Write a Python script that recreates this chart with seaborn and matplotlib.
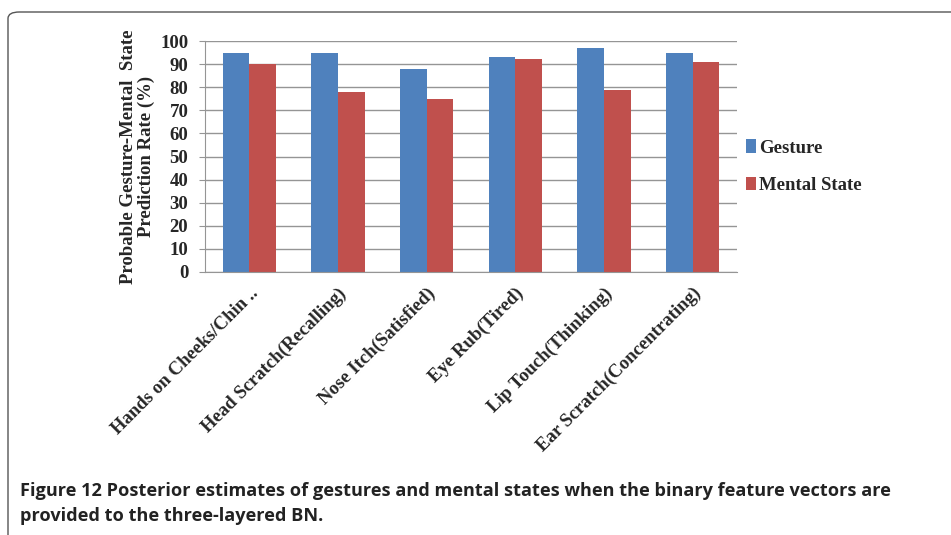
import matplotlib
matplotlib.use("Agg")
import matplotlib.pyplot as plt
import seaborn as sns
import pandas as pd
from matplotlib.patches import FancyBboxPatch

categories = ["Hands on Cheeks/Chin ..", "Head Scratch(Recalling)", "Nose Itch(Satisfied)",
              "Eye Rub(Tired)", "Lip Touch(Thinking)", "Ear Scratch(Concentrating)"]
gesture = [95, 95, 88, 93, 97, 95]
mental_state = [90, 78, 75, 92, 79, 91]
series_names = ["Gesture", "Mental State"]
y_ticks = list(range(0, 101, 10))

df = pd.DataFrame({
    "category": categories * 2,
    "value": gesture + mental_state,
    "series": [series_names[0]] * len(categories) + [series_names[1]] * len(categories),
})

sns.set_style("white")
plt.rcParams["font.family"] = ["Liberation Serif", "DejaVu Serif"]

fig = plt.figure(figsize=(9.51, 5.35), dpi=100)
ax = fig.add_axes([205 / 951, 1 - 272 / 535, (737 - 205) / 951, (272 - 41) / 535])

sns.barplot(data=df, x="category", y="value", hue="series",
            palette=["#4F81BD", "#C0504D"], width=0.6, ax=ax, saturation=1,
            edgecolor="none")

ax.set_ylim(0, 100)
ax.set_yticks(y_ticks)
ax.set_xlim(-0.5, len(categories) - 0.5)
ax.yaxis.grid(True, color="#959595", linewidth=1.0)
ax.set_axisbelow(True)
for s in ["top", "right"]:
    ax.spines[s].set_visible(False)
ax.spines["left"].set_color("#959595")
ax.spines["bottom"].set_color("#959595")
ax.tick_params(axis="y", length=4, color="#959595", direction="out", left=True, pad=8)
ax.tick_params(axis="x", length=0, pad=9)
for lab in ax.get_yticklabels():
    lab.set_fontsize(13.5)
    lab.set_fontweight("bold")
ax.set_xticks(range(len(categories)))
ax.set_xticklabels(categories, rotation=45, ha="right", rotation_mode="anchor",
                   fontsize=13.5, fontweight="bold")
ax.set_xlabel("")
ax.set_ylabel("Probable Gesture-Mental  State\nPrediction Rate (%)", fontsize=13.5,
              fontweight="bold", labelpad=4, linespacing=1.0)

handles, labels = ax.get_legend_handles_labels()
ax.legend(handles, labels, loc="center left", bbox_to_anchor=(1.003, 0.455), frameon=False,
          prop={"size": 13.5, "weight": "bold"}, handlelength=0.55, handleheight=0.7,
          labelspacing=1.1, handletextpad=0.15, borderaxespad=0.0)

fig.text(20 / 951, 1 - 491 / 535,
         "Figure 12 Posterior estimates of gestures and mental states when the binary feature vectors are",
         fontsize=13.1, fontweight="bold", family=["Open Sans", "DejaVu Sans"], va="center", ha="left",
         color="#222222")
fig.text(20 / 951, 1 - 516 / 535, "provided to the three-layered BN.",
         fontsize=13.1, fontweight="bold", family=["Open Sans", "DejaVu Sans"], va="center", ha="left",
         color="#222222")

box = FancyBboxPatch((8 / 951, -0.1), 1.2, 1 - 12 / 535 + 0.1,
                     boxstyle="round,pad=0,rounding_size=0.012", transform=fig.transFigure,
                     fill=False, edgecolor="#555555", linewidth=1.0, clip_on=False)
fig.patches.append(box)

fig.savefig("out.png", dpi=100)
